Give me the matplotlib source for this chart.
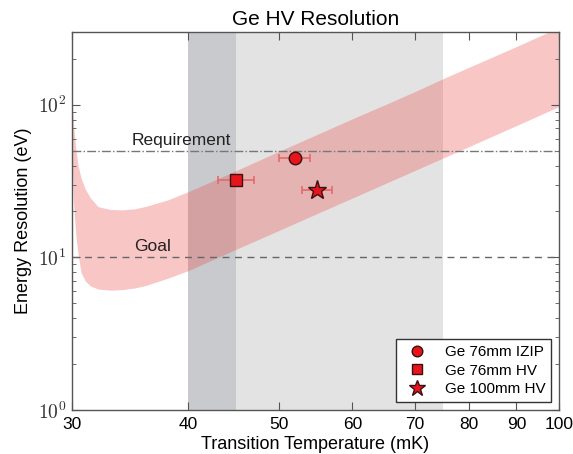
import numpy as np
import matplotlib
matplotlib.use("Agg")
import matplotlib.pyplot as plt
from matplotlib.ticker import FixedLocator, FixedFormatter, NullLocator

plt.rcParams["font.family"] = ["Liberation Sans", "DejaVu Sans"]
plt.rcParams["mathtext.fontset"] = "cm"

# Expected resolution band vs. Tc (lower / upper edge, eV)
tc = [30.01, 30.05, 30.1, 30.2, 30.3, 30.45, 30.67, 31, 31.4, 32, 33, 34, 35,
      36, 38, 40, 45, 50, 55, 60, 65, 70, 75, 80, 90, 100]
band_lo = [45, 32, 24, 17.5, 13.5, 10.5, 8.0, 7.0, 6.5, 6.2, 6.1, 6.15, 6.3,
           6.55, 7.3, 8.2, 11.3, 15.0, 19.4, 24.5, 30.4, 37.1, 44.7, 53.2, 73.1, 97.5]
band_hi = [105, 92, 78, 60, 50, 40, 33.4, 28, 24.5, 21.5, 20.6, 20.5, 20.8,
           21.6, 23.8, 27, 37, 49.5, 64, 81, 100, 122, 148, 176, 241, 322]

# Measured detectors
det_names = ["Ge 76mm IZIP", "Ge 76mm HV", "Ge 100mm HV"]
det_tc = [52.0, 45.0, 55.0]
det_tc_err = [2.0, 2.0, 2.0]
det_res = [44.6, 32.3, 27.7]
det_markers = ["o", "s", "*"]
det_sizes = [9, 8, 14]

requirement = 50
goal = 10

fig = plt.figure(figsize=(5.73, 4.54), dpi=100)
ax = fig.add_axes([0.1257, 0.0969, 0.85, 0.8326])

ax.set_xscale("log")
ax.set_yscale("log")
ax.set_xlim(30, 100)
ax.set_ylim(1, 300)

ax.axvspan(40, 45, color="#c9cacd", lw=0, zorder=0)
ax.axvspan(45, 75, color="#e3e3e3", lw=0, zorder=0)

ax.fill_between(tc, band_lo, band_hi, color="#ee4444", alpha=0.3, lw=0, zorder=1)

ax.axhline(requirement, color="#777777", ls="-.", lw=1, zorder=2)
ax.axhline(goal, color="#666666", ls=(0, (5, 4)), lw=1, zorder=2)
ax.text(39.3, requirement * 1.05, "Requirement", fontsize=12.5, color="#222222",
        va="bottom", ha="center")
ax.text(36.6, goal * 1.05, "Goal", fontsize=12.5, color="#222222",
        va="bottom", ha="center")

for name, t, te, r, m, s in zip(det_names, det_tc, det_tc_err, det_res,
                                det_markers, det_sizes):
    ax.errorbar(t, r, xerr=te, fmt="none", ecolor="#e36a6a", elinewidth=1.2,
                capsize=3, capthick=1.2, zorder=3)
    ax.plot(t, r, ls="none", marker=m, ms=s, mfc="#e8141c", mec="#3a1010",
            mew=1.0, label=name, zorder=4)

xt = [30, 40, 50, 60, 70, 80, 90, 100]
ax.xaxis.set_major_locator(FixedLocator(xt))
ax.xaxis.set_major_formatter(FixedFormatter([str(v) for v in xt]))
ax.xaxis.set_minor_locator(NullLocator())

yt = [1, 10, 100]
ax.yaxis.set_major_locator(FixedLocator(yt))
ax.yaxis.set_major_formatter(FixedFormatter([r"$10^{0}$", r"$10^{1}$", r"$10^{2}$"]))

ax.tick_params(which="both", direction="in", top=True, right=True,
               color="#555555")
ax.tick_params(which="major", length=6, labelsize=12.5, pad=5)
ax.tick_params(axis="y", which="major", labelsize=14, pad=4, labelcolor="#333333")
ax.tick_params(which="minor", length=3)
for sp in ax.spines.values():
    sp.set_color("#555555")
    sp.set_linewidth(1.0)

ax.set_title("Ge HV Resolution", fontsize=15, pad=5)
ax.set_xlabel("Transition Temperature (mK)", fontsize=13, labelpad=3)
ax.set_ylabel("Energy Resolution (eV)", fontsize=13, labelpad=4)

leg = ax.legend(loc="lower right", numpoints=1, fontsize=11, fancybox=False,
                framealpha=1, edgecolor="#333333", handletextpad=0.8,
                borderaxespad=0.5, labelspacing=0.3, markerscale=0.85)
leg.get_frame().set_linewidth(1.0)

fig.savefig("out.png", dpi=100)
